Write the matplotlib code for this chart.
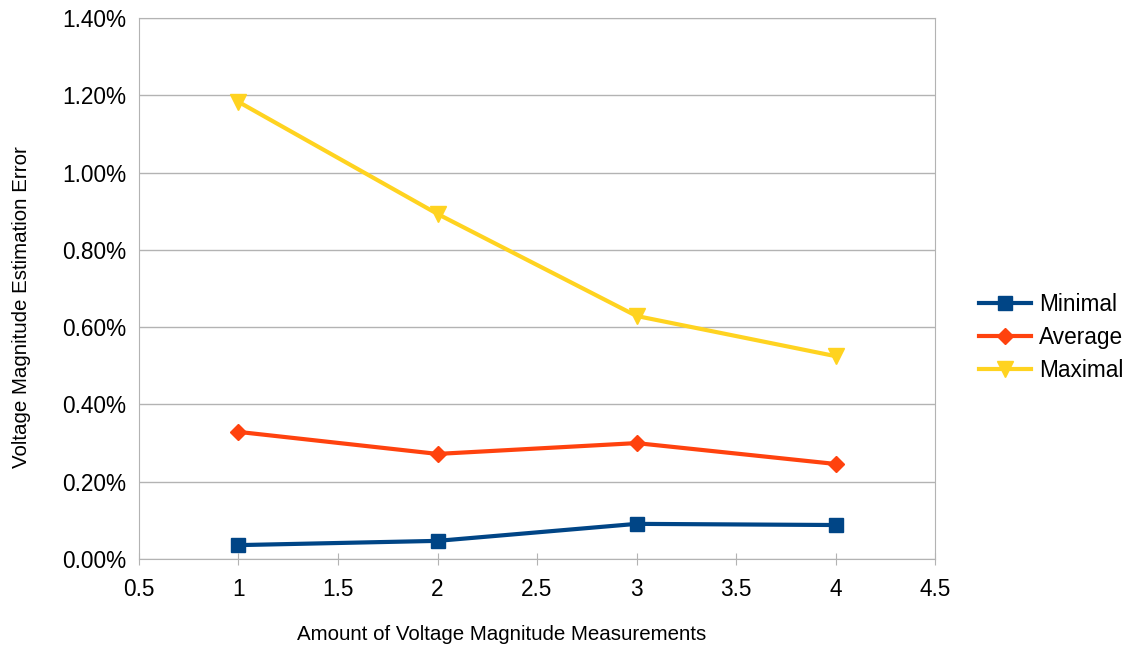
import matplotlib
matplotlib.use('Agg')
import matplotlib.pyplot as plt
from matplotlib.ticker import PercentFormatter, MultipleLocator

plt.rcParams['font.family'] = ['Liberation Sans', 'DejaVu Sans']

measurements = [1, 2, 3, 4]
minimal = [0.036, 0.047, 0.091, 0.088]
average = [0.329, 0.272, 0.300, 0.246]
maximal = [1.183, 0.893, 0.629, 0.525]


def main():
    fig = plt.figure(figsize=(11.29, 6.48), dpi=100)
    ax = fig.add_axes([0.1231, 0.1373, 0.7051, 0.8349])

    ax.plot(measurements, minimal, color='#004586', lw=3, marker='s', ms=10, label='Minimal')
    ax.plot(measurements, average, color='#ff420e', lw=3, marker='D', ms=8, label='Average')
    ax.plot(measurements, maximal, color='#ffd320', lw=3, marker='v', ms=11, label='Maximal')

    ax.set_xlim(0.5, 4.5)
    ax.set_ylim(0, 1.4)
    ax.xaxis.set_major_locator(MultipleLocator(0.5))
    ax.yaxis.set_major_locator(MultipleLocator(0.2))
    ax.xaxis.set_major_formatter(plt.FuncFormatter(lambda v, p: '{:g}'.format(v)))
    ax.yaxis.set_major_formatter(PercentFormatter(decimals=2))
    ax.grid(axis='y', color='#b3b3b3', lw=1)
    ax.set_axisbelow(True)
    for s in ax.spines.values():
        s.set_color('#b3b3b3')
    ax.tick_params(colors='#b3b3b3', labelcolor='black', labelsize=16.3)
    ax.tick_params(axis='x', direction='inout', length=8, pad=10)
    ax.tick_params(axis='y', length=0, pad=9)

    ax.set_xlabel('Amount of Voltage Magnitude Measurements', fontsize=14.8)
    ax.set_ylabel('Voltage Magnitude Estimation Error', fontsize=14.8)
    ax.xaxis.set_label_coords(0.455, -0.14, transform=ax.transAxes)
    ax.yaxis.set_label_coords(-0.147, 0.466, transform=ax.transAxes)
    ax.xaxis.label.set_va('center')
    ax.yaxis.label.set_va('center')

    ax.legend(loc='center left', bbox_to_anchor=(1.030, 0.41), frameon=False,
              fontsize=16.3, handlelength=2.3, labelspacing=0.45, handletextpad=0.35)

    fig.savefig('out.png', dpi=100)


if __name__ == '__main__':
    main()
